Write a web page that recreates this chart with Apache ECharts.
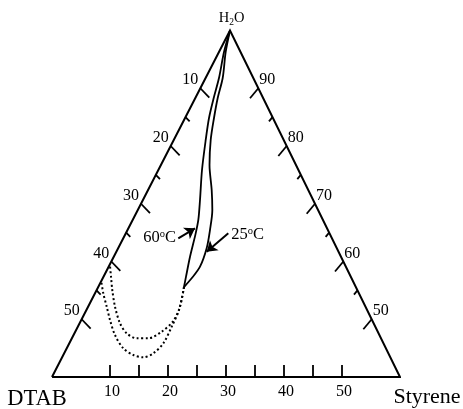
<!DOCTYPE html>
<html><head><meta charset="utf-8">
<script src="https://cdn.jsdelivr.net/npm/echarts@6/dist/echarts.min.js"></script>
<style>html,body{margin:0;padding:0;background:#fff}#c{width:463px;height:409px}</style>
</head><body><div id="c"></div>
<script>
// ---- tick values / labels ----
const dtabTicks = [10, 15, 20, 25, 30, 35, 40, 45, 50];      // left edge (DTAB wt%)
const dtabLabels = [10, 20, 30, 40, 50];
const waterTicks = [90, 85, 80, 75, 70, 65, 60, 55, 50];     // right edge (H2O wt%)
const waterLabels = [90, 80, 70, 60, 50];
const styreneTicks = [10, 15, 20, 25, 30, 35, 40, 45, 50];   // bottom edge (Styrene wt%)
const styreneLabels = [10, 20, 30, 40, 50];

// ---- phase boundaries: DTAB wt% and Styrene wt% (H2O = rest) ----
const curve60_dtab = [0, 2.85, 5.92, 8.52, 11.02, 13.45, 16.63, 19.51, 21.49, 23.2, 26.03, 28.41, 29.63];
const curve60_sty  = [0, 0.87, 2.31, 3.17, 4.13, 5.51, 7.53, 9.84, 11.32, 12.1, 13.14, 14.22, 14.79];
const curve25_dtab = [0, 2.56, 5.28, 7.83, 10.16, 12.59, 14.91, 16.65, 18.23, 20.33, 22.41, 25.15, 27.57, 29.63];
const curve25_sty  = [0, 1.16, 2.95, 3.86, 4.99, 6.37, 8.38, 10.97, 12.85, 14.22, 15.25, 15.75, 15.34, 14.79];
const dotUpper_dtab = [29.63, 31.99, 34.35, 37.26, 40.12, 42.12, 43.42, 43.73, 43.19, 42.25, 41.34, 40.5];
const dotUpper_sty  = [14.79, 15.84, 15.95, 14.90, 13.18, 11.18, 9.01, 6.97, 4.64, 2.69, 1.29, 0];
const dotLower_dtab = [29.63, 32.44, 35.11, 37.95, 40.53, 42.59, 44.12, 45.28, 45.59, 45.18, 44.62, 44.08, 43.4];
const dotLower_sty  = [14.79, 15.96, 16.18, 16.21, 15.37, 14.00, 12.07, 9.75, 7.14, 4.95, 3.21, 1.43, 0];

// ---- annotations (temperature labels + arrows), in composition terms ----
const tempNames = ['60', '25'];
const tempLabelDtab = [29.63, 14.28];
const tempLabelSty  = [6.21, 21.13];
const arrowFromDtab = [26.49, 17.45];
const arrowFromSty  = [9.49, 17.67];
const arrowToDtab   = [22.77, 22.73];
const arrowToSty    = [11.48, 15.57];

// ---- ternary -> cartesian (partial triangle, H2O >= 40) ----
const SKEW = 0.5115;
function toXY(d, s) { const h = 100 - d - s; return [s + (h - 40) * SKEW, h]; }
function curve(dArr, sArr) { return dArr.map((d, i) => toXY(d, sArr[i])); }

const FONT = '"Liberation Serif", "Times New Roman", serif';
const chart = echarts.init(document.getElementById('c'));

function txt(x, y, text, size, align, rich) {
  const st = { text: text, fill: '#000', fontSize: size, fontFamily: FONT,
    align: align, textAlign: align, verticalAlign: 'middle', textVerticalAlign: 'middle' };
  if (rich) st.rich = rich;
  return { type: 'text', x: x, y: y, style: st };
}
function seg(x1, y1, x2, y2, w) {
  return { type: 'line', shape: { x1: x1, y1: y1, x2: x2, y2: y2 }, style: { stroke: '#000', lineWidth: w, lineCap: 'butt' } };
}

function renderDecor(params, api) {
  const ch = [];
  const P = (d, s) => api.coord(toXY(d, s));
  // left edge ticks (Styrene = 0)
  dtabTicks.forEach(v => {
    const p = P(v, 0); const L = v % 10 === 0 ? 13 : 6;
    ch.push(seg(p[0], p[1], p[0] + 0.69 * L, p[1] + 0.72 * L, 1.8));
  });
  dtabLabels.forEach(v => { const p = P(v, 0); ch.push(txt(p[0] - 2, p[1] - 8, String(v), 16, 'right')); });
  // right edge ticks (DTAB = 0)
  waterTicks.forEach(v => {
    const p = P(0, 100 - v); const L = v % 10 === 0 ? 13 : 5.5;
    ch.push(seg(p[0], p[1], p[0] - 0.64 * L, p[1] + 0.77 * L, 1.8));
  });
  waterLabels.forEach(v => { const p = P(0, 100 - v); ch.push(txt(p[0] + 1, p[1] - 8, String(v), 16, 'left')); });
  // bottom ticks (H2O = 40)
  styreneTicks.forEach(v => {
    const p = P(60 - v, v);
    ch.push(seg(p[0], p[1], p[0], p[1] - 12, 1.8));
  });
  styreneLabels.forEach(v => { const p = P(60 - v, v); ch.push(txt(p[0] + 2, p[1] + 15, String(v), 16, 'center')); });
  // vertex names
  const a = P(0, 0), b = P(60, 0), c = P(0, 60);
  ch.push(txt(a[0] + 1.5, a[1] - 12, '{n|H}{s|2}{n|O}', 14.5, 'center', {
    n: { fontSize: 14.5, fontFamily: FONT, lineHeight: 17, fill: '#000' },
    s: { fontSize: 9.5, fontFamily: FONT, lineHeight: 9, verticalAlign: 'bottom', fill: '#000' } }));
  ch.push(txt(b[0] - 15, b[1] + 22, 'DTAB', 22.5, 'center'));
  ch.push(txt(c[0] + 27, c[1] + 20.5, 'Styrene', 22, 'center'));
  // temperature labels
  tempNames.forEach((t, i) => {
    const p = P(tempLabelDtab[i], tempLabelSty[i]);
    ch.push(txt(p[0], p[1], '{n|' + t + '}{u|o}{n|C}', 16.5, 'center', {
      n: { fontSize: 16.5, fontFamily: FONT, lineHeight: 18, fill: '#000' },
      u: { fontSize: 10.5, fontFamily: FONT, lineHeight: 10, verticalAlign: 'top', fill: '#000' } }));
  });
  return { type: 'group', children: ch };
}

const black = '#000';
chart.setOption({
  animation: false,
  backgroundColor: '#fff',
  grid: { left: 52, top: 30.5, width: 348, height: 346.5 },
  xAxis: { type: 'value', min: 0, max: 60, show: false },
  yAxis: { type: 'value', min: 40, max: 100, show: false },
  series: [
    { type: 'line', clip: false, symbol: 'none', silent: true,
      data: curve([60, 0, 0, 60], [0, 60, 0, 0]),
      lineStyle: { color: black, width: 2, join: 'miter' } },
    { type: 'line', clip: false, symbol: 'none', smooth: 0.3, silent: true,
      data: curve(curve60_dtab, curve60_sty), lineStyle: { color: black, width: 1.8 } },
    { type: 'line', clip: false, symbol: 'none', smooth: 0.3, silent: true,
      data: curve(curve25_dtab, curve25_sty), lineStyle: { color: black, width: 1.8 } },
    { type: 'line', clip: false, symbol: 'none', smooth: 0.3, silent: true,
      data: curve(dotUpper_dtab, dotUpper_sty), lineStyle: { color: black, width: 2, type: [2, 2.5] } },
    { type: 'line', clip: false, symbol: 'none', smooth: 0.3, silent: true,
      data: curve(dotLower_dtab, dotLower_sty), lineStyle: { color: black, width: 2, type: [2, 2.5] } },
    { type: 'lines', coordinateSystem: 'cartesian2d', silent: true,
      symbol: ['none', 'arrow'], symbolSize: 10,
      lineStyle: { color: black, width: 2, opacity: 1 },
      data: tempNames.map((t, i) => ({ coords: [toXY(arrowFromDtab[i], arrowFromSty[i]), toXY(arrowToDtab[i], arrowToSty[i])] })) },
    { type: 'custom', coordinateSystem: 'cartesian2d', silent: true, clip: false,
      data: [[0, 40]], renderItem: renderDecor, z: 5 }
  ]
});
</script>
</body></html>
